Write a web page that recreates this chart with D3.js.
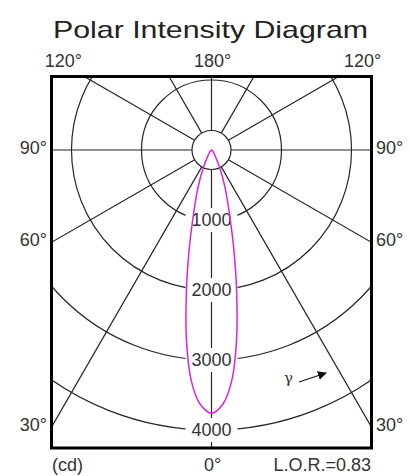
<!DOCTYPE html>
<html>
<head>
<meta charset="utf-8">
<script src="https://cdn.jsdelivr.net/npm/d3@7"></script>
<style>
  html, body { margin: 0; padding: 0; background: #fff; }
  svg { display: block; font-family: "Liberation Sans", Arial, Helvetica, sans-serif; }
</style>
</head>
<body>
<svg id="chart" width="410" height="476"></svg>
<script>
// ---- data ----
const gammaDeg   = [0, 2.5, 5, 7.5, 10, 12.5, 15, 20, 25, 30, 40, 50, 60, 70, 80, 90];
const intensity  = [3760, 3640, 3310, 2740, 2070, 1490, 1040, 560, 265, 120, 40, 15, 8, 4, 2, 0];
const ringValues = [1000, 2000, 3000, 4000];
const spokeAngles = [0, 30, 60, 90, 120, 150, 180];
const sideLabels = [90, 60, 30];
const title = "Polar Intensity Diagram";
const lorText = "L.O.R.=0.83";
const unitText = "(cd)";

// ---- layout ----
const svg = d3.select("#chart");
const box = {x0: 51.5, x1: 371.5, y0: 76.5, y1: 448};
const cx = (box.x0 + box.x1) / 2, cy = 150;
const r = d3.scaleLinear().domain([0, 4000]).range([0, 280]);
const holeR = 19.5;
const gridColor = "#262626", textColor = "#333";
const fs = 18;

svg.append("defs").append("clipPath").attr("id", "clip")
  .append("rect").attr("x", box.x0).attr("y", box.y0)
  .attr("width", box.x1 - box.x0).attr("height", box.y1 - box.y0);

// title
svg.append("text").attr("x", 53).attr("y", 38)
  .attr("font-size", 24).attr("fill", "#222")
  .attr("textLength", 315).attr("lengthAdjust", "spacingAndGlyphs")
  .text(title);

const plot = svg.append("g").attr("clip-path", "url(#clip)");
const g = plot.append("g").attr("transform", `translate(${cx},${cy})`);

// rings
g.selectAll("circle.ring").data(ringValues).enter().append("circle")
  .attr("class", "ring").attr("r", d => r(d))
  .attr("fill", "none").attr("stroke", gridColor).attr("stroke-width", 1.2);

// spokes (both sides)
const spokes = [];
spokeAngles.forEach(a => { spokes.push(a); if (a > 0 && a < 180) spokes.push(-a); });
g.selectAll("line.spoke").data(spokes).enter().append("line")
  .attr("class", "spoke")
  .attr("x1", d => holeR * Math.sin(d * Math.PI / 180))
  .attr("y1", d => holeR * Math.cos(d * Math.PI / 180))
  .attr("x2", d => 600 * Math.sin(d * Math.PI / 180))
  .attr("y2", d => 600 * Math.cos(d * Math.PI / 180))
  .attr("stroke", gridColor).attr("stroke-width", 1.2);

// ring labels with white backgrounds
const rl = g.selectAll("g.rl").data(ringValues).enter().append("g")
  .attr("transform", d => `translate(0,${r(d)})`);
rl.append("rect").attr("x", -26).attr("y", -12).attr("width", 52).attr("height", 24).attr("fill", "#fff");
rl.append("text").attr("text-anchor", "middle").attr("dy", "0.36em")
  .attr("font-size", fs).attr("fill", textColor).text(d => d);

// inner hole
g.append("circle").attr("r", holeR).attr("fill", "#fff")
  .attr("stroke", gridColor).attr("stroke-width", 1.2);

// intensity curve (mirrored)
const pts = [];
for (let i = gammaDeg.length - 1; i >= 0; i--) pts.push([-gammaDeg[i], intensity[i]]);
for (let i = 1; i < gammaDeg.length; i++) pts.push([gammaDeg[i], intensity[i]]);
const radial = d3.lineRadial()
  .angle(d => Math.PI - d[0] * Math.PI / 180)
  .radius(d => r(d[1]))
  .curve(d3.curveCatmullRom.alpha(0.5));
g.append("path").attr("d", radial(pts))
  .attr("fill", "none").attr("stroke", "#dd22dd").attr("stroke-width", 1.5);

// gamma arrow
const defs = svg.select("defs");
defs.append("marker").attr("id", "ah").attr("viewBox", "0 0 10 10")
  .attr("refX", 9).attr("refY", 5).attr("markerWidth", 9).attr("markerHeight", 9)
  .attr("markerUnits", "userSpaceOnUse").attr("orient", "auto")
  .append("path").attr("d", "M0,0 L10,5 L0,10 z").attr("fill", "#111");
svg.append("text").attr("x", 284).attr("y", 383).attr("font-size", 15)
  .attr("font-family", "'DejaVu Serif', 'Liberation Serif', serif")
  .attr("fill", textColor).text("γ");
svg.append("line").attr("x1", 299).attr("y1", 382).attr("x2", 326).attr("y2", 373)
  .attr("stroke", "#111").attr("stroke-width", 1.3).attr("marker-end", "url(#ah)");

// frame
svg.append("rect").attr("x", box.x0).attr("y", box.y0)
  .attr("width", box.x1 - box.x0).attr("height", box.y1 - box.y0)
  .attr("fill", "none").attr("stroke", "#000").attr("stroke-width", 3);

// angle labels
const lab = (x, y, t, anchor) => svg.append("text").attr("x", x).attr("y", y)
  .attr("text-anchor", anchor).attr("font-size", fs).attr("fill", textColor).text(t);
lab(82, 67, "120°", "end");
lab(cx + 1, 67, "180°", "middle");
lab(344, 67, "120°", "start");
sideLabels.forEach(a => {
  const dx = cx - box.x0;
  const y = cy + dx / Math.tan(a * Math.PI / 180) + 4;
  lab(47, y, a + "°", "end");
  lab(376, y, a + "°", "start");
});
lab(52, 471, unitText, "start");
lab(cx + 1, 471, "0°", "middle");
lab(371, 471, lorText, "end");
</script>
</body>
</html>
